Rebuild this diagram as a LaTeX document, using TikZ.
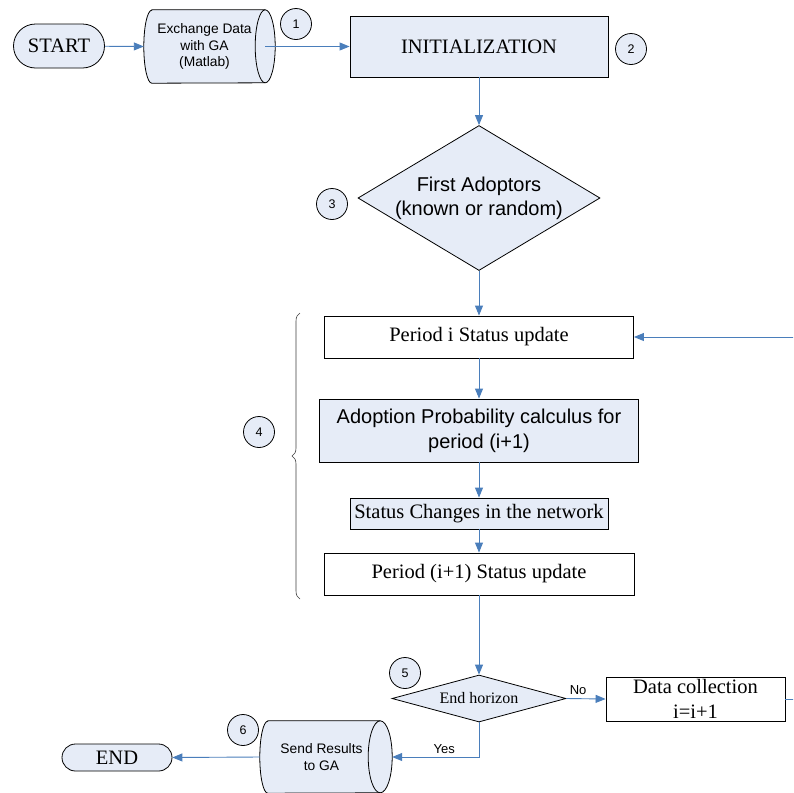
\documentclass[tikz,border=0pt]{standalone}
\usepackage{fontspec}
\setmainfont{Liberation Serif}
\newfontfamily\arialfont{Liberation Sans}
\usetikzlibrary{shapes.geometric,shapes.misc,arrows.meta,decorations.pathreplacing}
\definecolor{boxfill}{HTML}{E6ECF7}
\definecolor{flowblue}{HTML}{4A7EBB}

\begin{document}
\begin{tikzpicture}[x=1pt,y=-1pt,
	terminal/.style={rounded rectangle,draw,fill=boxfill,line width=0.8pt,inner sep=0pt,font=\fontsize{20.5}{24}\selectfont},
	proc/.style={rectangle,draw,line width=0.9pt,inner sep=0pt,align=center,font=\fontsize{20.5}{24}\selectfont},
	decision/.style={diamond,draw,fill=boxfill,line width=0.8pt,inner sep=0pt},
	store/.style={rectangle,inner sep=0pt,align=center,font=\arialfont\fontsize{13.8}{16.5}\selectfont},
	numcirc/.style={circle,draw,fill=boxfill,line width=0.8pt,minimum size=31pt,inner sep=0pt,font=\arialfont\fontsize{12.5}{14}\selectfont},
	flow/.style={draw=flowblue,line width=0.9pt,-{Triangle[length=10pt,width=8pt]}},
	small/.style={font=\arialfont\fontsize{13}{16}\selectfont,align=center}]
	\clip (0,0) rectangle (793,793);
	\fill[white] (0,0) rectangle (793,793);

	\node[terminal,minimum width=91pt,minimum height=44pt] (start) at (59,46) {START};

	% data exchange cylinder
	\node[store,minimum width=113pt,minimum height=73pt] (xch) at (208.5,46.5) {};
	\draw[fill=boxfill,line width=0.8pt] (xch.north west) -- (xch.north east)
		arc[start angle=90,end angle=-90,x radius=10pt,y radius=36.5pt] -- (xch.south west)
		arc[start angle=270,end angle=90,x radius=8pt,y radius=36.5pt] -- cycle;
	\draw[line width=0.8pt] (xch.north east) arc[start angle=90,end angle=270,x radius=10pt,y radius=36.5pt];
	\node[store] at ([xshift=-4pt]xch.center) {Exchange Data\\with GA\\(Matlab)};
	\node[numcirc] (n1) at (296,24) {1};

	\node[proc,fill=boxfill,minimum width=258pt,minimum height=61pt] (init) at (479,46.5) {INITIALIZATION};
	\node[numcirc] (n2) at (631,49) {2};

	\node[decision,minimum width=242pt,minimum height=145pt,
		label={[font=\arialfont\fontsize{20}{24}\selectfont,align=center]center:First Adoptors\\(known or random)}] (first) at (479,198) {};
	\node[numcirc] (n3) at (332,204) {3};

	\node[proc,minimum width=309pt,minimum height=42pt] (per1) at (479,337) {Period i Status update};
	\node[proc,fill=boxfill,minimum width=319pt,minimum height=63pt,font=\arialfont\fontsize{20}{25}\selectfont] (prob) at (479,430.5) {Adoption Probability calculus for\\period (i+1)};
	\node[proc,fill=boxfill,minimum width=258pt,minimum height=31pt] (chg) at (479,513.5) {Status Changes in the network};
	\node[proc,minimum width=310pt,minimum height=42pt] (per2) at (479,574) {Period (i+1) Status update};

	\draw[decorate,decoration={brace,amplitude=8pt},line width=0.6pt,black!75] (300,599) -- (300,313);
	\node[numcirc] (n4) at (259,432) {4};

	\node[decision,minimum width=174pt,minimum height=47pt,
		label={[font=\fontsize{16}{19}\selectfont]center:End horizon}] (endh) at (479,698.5) {};
	\node[numcirc] (n5) at (405,673) {5};
	\node[proc,minimum width=179pt,minimum height=44pt,font=\fontsize{20.5}{25}\selectfont] (data) at (695.5,699) {Data collection\\i=i+1};

	% results cylinder
	\node[store,minimum width=112pt,minimum height=72pt] (send) at (324,757) {};
	\draw[fill=boxfill,line width=0.8pt] (send.north west) -- (send.north east)
		arc[start angle=90,end angle=-90,x radius=12pt,y radius=36pt] -- (send.south west)
		arc[start angle=270,end angle=90,x radius=8pt,y radius=36pt] -- cycle;
	\draw[line width=0.8pt] (send.north east) arc[start angle=90,end angle=270,x radius=12pt,y radius=36pt];
	\node[store] at ([xshift=-2.5pt]send.center) {Send Results\\to GA};
	\node[numcirc] (n6) at (243,730) {6};

	\node[terminal,minimum width=110pt,minimum height=27pt] (end) at (117,757.5) {END};

	\draw[flow] (start) -- ([xshift=-8pt]xch.west);
	\draw[flow] (xch.east) -- (init);
	\draw[flow] (init.south) -- (first.north);
	\draw[flow] (first.south) -- (per1.north);
	\draw[flow] (per1.south) -- (prob.north);
	\draw[flow] (prob.south) -- (chg.north);
	\draw[flow] (chg.south) -- (per2.north);
	\draw[flow] (per2.south) -- (endh.north);
	\draw[flow] (endh.east) -- node[small,pos=0.3,above] {No} (data.west);
	\draw[flow] (endh.south) |- node[small,pos=0.7,above] {Yes} ([xshift=12pt]send.east);
	\draw[flow] ([xshift=-8pt]send.west) -- (end.east);
	\draw[flow] (data.east) -- ++(30,0) |- (per1.east);
\end{tikzpicture}
\end{document}
